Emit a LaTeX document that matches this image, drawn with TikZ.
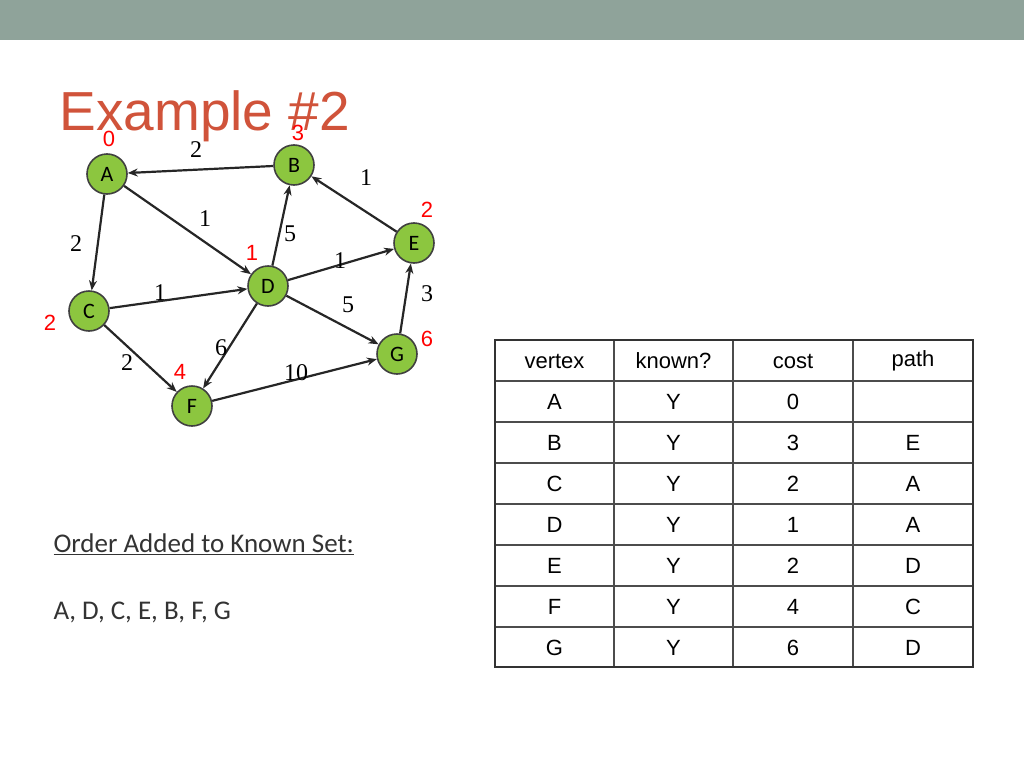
\documentclass[tikz,border=0pt]{standalone}
\usepackage{fontspec}
\setmainfont{Liberation Serif}
\newfontfamily\arialf{Liberation Sans}
\newfontfamily\calf{Carlito}
\usetikzlibrary{arrows.meta}
\definecolor{barc}{HTML}{8FA39A}
\definecolor{titc}{HTML}{D0533A}
\definecolor{nodec}{HTML}{8CC63F}
\tikzset{
 vtx/.style={circle,draw=black!75,line width=1.6pt,fill=nodec,minimum size=40pt,inner sep=0pt,font=\calf\fontsize{22}{22}\selectfont},
 edge/.style={-{Stealth[length=10pt,width=8pt]},line width=2.2pt,draw=black!85},
 wt/.style={font=\fontsize{24}{24}\selectfont},
 dist/.style={text=red,font=\arialf\fontsize{22}{22}\selectfont},
 cell/.style={font=\arialf\fontsize{22}{22}\selectfont}
}
\begin{document}
\begin{tikzpicture}[x=1pt,y=-1pt]
\useasboundingbox (0,0) rectangle (1024,768);
\fill[barc] (0,0) rectangle (1024,40);
\node[text=titc,font=\arialf\fontsize{55}{55}\selectfont,anchor=west] (title) at (56,116) {Example \#2};
\node[vtx] (A) at (107,174) {A};
\node[vtx] (B) at (294,165) {B};
\node[vtx] (E) at (414,243) {E};
\node[vtx] (D) at (268,286) {D};
\node[vtx] (C) at (89,311) {C};
\node[vtx] (G) at (397,354) {G};
\node[vtx] (F) at (192,406) {F};
\draw[edge] (B) -- (A);
\draw[edge] (A) -- (D);
\draw[edge] (A) -- (C);
\draw[edge] (D) -- (B);
\draw[edge] (D) -- (E);
\draw[edge] (E) -- (B);
\draw[edge] (C) -- (D);
\draw[edge] (D) -- (G);
\draw[edge] (D) -- (F);
\draw[edge] (C) -- (F);
\draw[edge] (F) -- (G);
\draw[edge] (G) -- (E);
\node[wt] (w1) at (196,150) {2};
\node[wt] (w2) at (366,178) {1};
\node[wt] (w3) at (205,219) {1};
\node[wt] (w4) at (290,234) {5};
\node[wt] (w5) at (76,244) {2};
\node[wt] (w6) at (340,261) {1};
\node[wt] (w7) at (427,294) {3};
\node[wt] (w8) at (160,293) {1};
\node[wt] (w9) at (348,305) {5};
\node[wt] (w10) at (221,348) {6};
\node[wt] (w11) at (127,363) {2};
\node[wt] (w12) at (296,373) {10};
\node[dist] (dA) at (109,139) {0};
\node[dist] (dB) at (298,133) {3};
\node[dist] (dE) at (427,210) {2};
\node[dist] (dD) at (252,253) {1};
\node[dist] (dC) at (50,323) {2};
\node[dist] (dG) at (427,339) {6};
\node[dist] (dF) at (180,372) {4};
% table
\foreach \yy in {381,422,463,504,545,586,627} \draw[black!70,line width=1.2pt] (495,\yy) -- (973,\yy);
\foreach \xx in {614,733,853} \draw[black!70,line width=1.2pt] (\xx,340) -- (\xx,667);
\draw[black!80,line width=2pt] (495,340) rectangle (973,667);
\node[cell] (h1) at (554.5,361) {vertex};
\node[cell] (h2) at (673.5,361) {known?};
\node[cell] (h3) at (793,361) {cost};
\node[cell] (h4) at (913,361) {path};
\foreach \v/\k/\c/\p [count=\i] in {A/Y/0/,B/Y/3/E,C/Y/2/A,D/Y/1/A,E/Y/2/D,F/Y/4/C,G/Y/6/D}{
 \pgfmathsetmacro\yy{361+41*\i}
 \node[cell] (r\i a) at (554.5,\yy) {\v};
 \node[cell] (r\i b) at (673.5,\yy) {\k};
 \node[cell] (r\i c) at (793,\yy) {\c};
 \node[cell] (r\i d) at (913,\yy) {\p};
}
\node[anchor=west,font=\calf\fontsize{27}{27}\selectfont,text=black!80] (ord) at (50,544) {\underline{Order Added to Known Set:}};
\node[anchor=west,font=\calf\fontsize{27}{27}\selectfont,text=black!80] (seq) at (50,612) {A, D, C, E, B, F, G};
\end{tikzpicture}
\end{document}
